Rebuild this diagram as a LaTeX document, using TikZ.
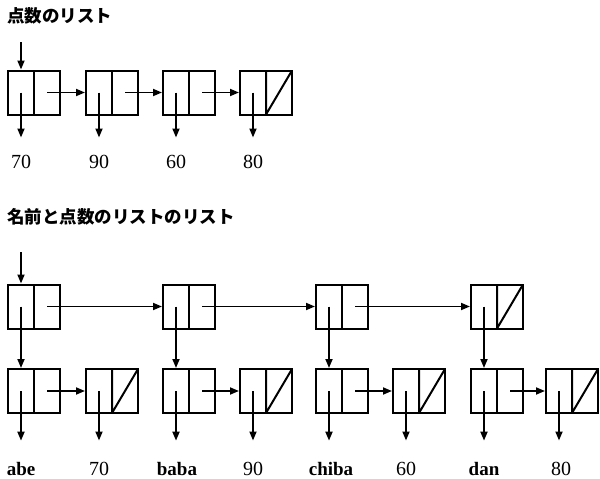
\documentclass[tikz,border=0pt]{standalone}
\usepackage{fontspec}
\setmainfont{Liberation Serif}
\newfontfamily\cjk{Noto Sans CJK JP}
\usetikzlibrary{arrows.meta,calc}
\begin{document}
\begin{tikzpicture}[x=1pt,y=1pt,
  cell/.style={draw, line width=2pt, minimum width=52pt, minimum height=44pt, inner sep=0pt,
    path picture={\draw[line width=2pt] (path picture bounding box.north) -- (path picture bounding box.south);}},
  nilcell/.style={draw, line width=2pt, minimum width=52pt, minimum height=44pt, inner sep=0pt,
    path picture={\draw[line width=2pt] (path picture bounding box.north) -- (path picture bounding box.south) -- (path picture bounding box.north east);}},
  ptr/.style={line width=1.8pt, -{Triangle[length=9pt,width=7pt]}},
  num/.style={font=\fontsize{20}{20}\selectfont, inner sep=0pt, anchor=base},
  nm/.style={font=\fontsize{19}{19}\selectfont\bfseries, inner sep=0pt, anchor=base},
  ttl/.style={font=\cjk\bfseries\fontsize{17.5}{18}\selectfont, anchor=west, inner sep=0pt}]
\useasboundingbox (0,0) rectangle (600,-479);

% car / cdr points of a cell
\newcommand{\carcdr}[1]{%
  \coordinate (#1car) at ($(#1.center)+(-13,0)$);
  \coordinate (#1cdr) at ($(#1.center)+(13,0)$);}

% ---------- top: list of scores ----------
\node[ttl] (t1) at (7,-16) {点数のリスト};
\node[cell] (a1) at (34,-92.5) {};
\node[cell] (a2) at (112,-92.5) {};
\node[cell] (a3) at (189,-92.5) {};
\node[nilcell] (a4) at (266,-92.5) {};
\carcdr{a1}\carcdr{a2}\carcdr{a3}\carcdr{a4}
\coordinate (s1) at (21,-42);
\node[num] (l1) at (21,-168) {70};
\node[num] (l2) at (99,-168) {90};
\node[num] (l3) at (176,-168) {60};
\node[num] (l4) at (253,-168) {80};
\draw[ptr] (s1) -- (a1car |- a1.north);
\foreach \i/\j in {a1/a2,a2/a3,a3/a4}
  \draw[ptr] (\i cdr) -- (\j.west);
\foreach \i/\l in {a1/l1,a2/l2,a3/l3,a4/l4}
  \draw[ptr, shorten >=17pt] (\i car) -- (\i car |- \l.north);

% ---------- bottom: list of lists ----------
\node[ttl] (t2) at (7,-217) {名前と点数のリストのリスト};
\node[cell] (b1) at (34,-306.5) {};
\node[cell] (b2) at (189,-306.5) {};
\node[cell] (b3) at (342,-306.5) {};
\node[nilcell] (b4) at (497,-306.5) {};
\carcdr{b1}\carcdr{b2}\carcdr{b3}\carcdr{b4}
\coordinate (s2) at (21,-252);
\draw[ptr] (s2) -- (b1car |- b1.north);
\foreach \i/\j in {b1/b2,b2/b3,b3/b4}
  \draw[ptr] (\i cdr) -- (\j.west);

\node[cell] (c1) at (34,-391) {};
\node[nilcell] (c2) at (112,-391) {};
\node[cell] (c3) at (189,-391) {};
\node[nilcell] (c4) at (266,-391) {};
\node[cell] (c5) at (342,-391) {};
\node[nilcell] (c6) at (419,-391) {};
\node[cell] (c7) at (497,-391) {};
\node[nilcell] (c8) at (572,-391) {};
\carcdr{c1}\carcdr{c2}\carcdr{c3}\carcdr{c4}\carcdr{c5}\carcdr{c6}\carcdr{c7}\carcdr{c8}
\foreach \i/\j in {b1/c1,b2/c3,b3/c5,b4/c7}
  \draw[ptr] (\i car) -- (\i car |- \j.north);
\foreach \i/\j in {c1/c2,c3/c4,c5/c6,c7/c8}
  \draw[ptr] (\i cdr) -- (\j.west);

\node[nm]  (m1) at (21,-475) {abe};
\node[num] (m2) at (99,-475) {70};
\node[nm]  (m3) at (177,-475) {baba};
\node[num] (m4) at (253,-475) {90};
\node[nm]  (m5) at (331,-475) {chiba};
\node[num] (m6) at (406,-475) {60};
\node[nm]  (m7) at (484,-475) {dan};
\node[num] (m8) at (561,-475) {80};
\foreach \i/\l in {c1/m1,c2/m2,c3/m3,c4/m4,c5/m5,c6/m6,c7/m7,c8/m8}
  \draw[ptr, shorten >=21pt] (\i car) -- (\i car |- \l.north);
\end{tikzpicture}
\end{document}
